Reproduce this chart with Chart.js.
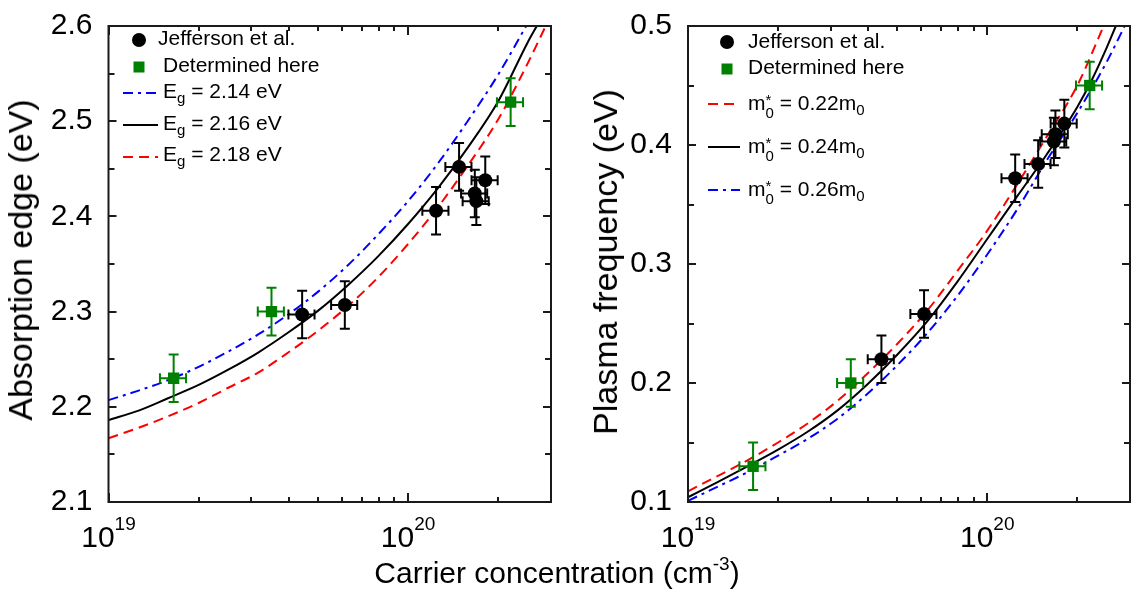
<!DOCTYPE html>
<html><head><meta charset="utf-8">
<script src="https://cdn.jsdelivr.net/npm/chart.js@4.4.1/dist/chart.umd.min.js"></script>
<style>
html,body{margin:0;padding:0;background:#fff;width:1144px;height:599px;overflow:hidden;}
.cv{position:absolute;top:0;}
.t{position:absolute;white-space:nowrap;color:#000;font-family:"Liberation Sans",Arial,Helvetica,sans-serif;}
.leg{font-size:21px;line-height:24px;}
.leg sub{font-size:15px;vertical-align:-5px;line-height:0;}
.ss{display:inline-block;vertical-align:-8px;line-height:13px;font-size:15px;text-align:left;}
.ss span{display:block;}
.ytitle{font-size:34px;line-height:34px;transform:translate(-50%,-50%) rotate(-90deg);}
.xtitle{font-size:30px;line-height:34px;transform:translateX(-50%);}
.xtitle sup{font-size:19px;vertical-align:13px;line-height:0;}
</style></head>
<body>
<canvas id="c1" class="cv" width="572" height="599" style="left:0px"></canvas>
<canvas id="c2" class="cv" width="572" height="599" style="left:572px"></canvas>

<div class="t ytitle" style="left:20px;top:260px;">Absorption edge (eV)</div>
<div class="t ytitle" style="left:605px;top:262px;">Plasma frequency (eV)</div>
<div class="t xtitle" style="left:557px;top:556px;">Carrier concentration (cm<sup>-3</sup>)</div>

<div class="t leg" style="left:158px;top:26px;">Jefferson et al.</div>
<div class="t leg" style="left:163px;top:53px;">Determined here</div>
<div class="t leg" style="left:163px;top:79px;">E<sub>g</sub> = 2.14 eV</div>
<div class="t leg" style="left:163px;top:111px;">E<sub>g</sub> = 2.16 eV</div>
<div class="t leg" style="left:163px;top:142px;">E<sub>g</sub> = 2.18 eV</div>

<div class="t leg" style="left:748px;top:29px;">Jefferson et al.</div>
<div class="t leg" style="left:748px;top:55px;">Determined here</div>
<div class="t leg" style="left:748px;top:91px;">m<span class="ss"><span>*</span><span>0</span></span> = 0.22m<sub>0</sub></div>
<div class="t leg" style="left:748px;top:134px;">m<span class="ss"><span>*</span><span>0</span></span> = 0.24m<sub>0</sub></div>
<div class="t leg" style="left:748px;top:177px;">m<span class="ss"><span>*</span><span>0</span></span> = 0.26m<sub>0</sub></div>

<script>
// ---------------- data ----------------
const xMin = 1e19, xMax = 3e20;
const xMajorTicks = [1e19, 1e20];
const xMinorTicks = [2e19,3e19,4e19,5e19,6e19,7e19,8e19,9e19,2e20,3e20];

const edgeTicks = [2.1,2.2,2.3,2.4,2.5,2.6];
const edgeMinorTicks = [2.15,2.25,2.35,2.45,2.55];
const plasmaTicks = [0.1,0.2,0.3,0.4,0.5];
const plasmaMinorTicks = [0.15,0.25,0.35,0.45];

// Jefferson et al.
const nJefferson      = [4.43e19, 6.15e19, 1.24e20, 1.48e20, 1.67e20, 1.69e20, 1.81e20];
const edgeJefferson   = [2.297, 2.307, 2.406, 2.452, 2.424, 2.416, 2.438];
const plasmaJefferson = [0.220, 0.258, 0.372, 0.384, 0.403, 0.409, 0.418];
// Determined here
const nHere      = [1.65e19, 3.5e19, 2.2e20];
const edgeHere   = [2.230, 2.300, 2.520];
const plasmaHere = [0.130, 0.200, 0.450];
// error bars
const nErrFraction = 0.10;
const edgeErr = 0.025;
const plasmaErr = 0.020;

// carrier concentrations at which the model curves were read
const nCurve = [1e19,1.26e19,1.58e19,2e19,2.51e19,3.16e19,3.98e19,5.01e19,6.31e19,7.94e19,1e20,1.26e20,1.58e20,2e20];

// model curves, absorption edge
const nEg214 = nCurve.concat([2.51e20]);
const eEg214 = [2.207,2.217,2.228,2.242,2.258,2.276,2.297,2.321,2.349,2.381,2.416,2.456,2.500,2.549,2.603];
const nEg216 = nCurve.concat([2.51e20, 2.69e20]);
const eEg216 = [2.186,2.196,2.209,2.223,2.239,2.257,2.278,2.301,2.328,2.358,2.392,2.430,2.472,2.521,2.583,2.600];
const nEg218 = nCurve.concat([2.51e20, 2.88e20]);
const eEg218 = [2.167,2.178,2.190,2.204,2.220,2.236,2.257,2.280,2.306,2.336,2.371,2.410,2.453,2.502,2.561,2.600];

// model curves, plasma frequency
const nM22 = nCurve.concat([2.45e20]);
const wM22 = [0.109,0.122,0.135,0.150,0.166,0.185,0.208,0.233,0.261,0.294,0.328,0.367,0.407,0.450,0.500];
const nM24 = nCurve.concat([2.24e20, 2.51e20, 2.69e20]);
const wM24 = [0.104,0.117,0.130,0.144,0.159,0.177,0.199,0.224,0.252,0.285,0.321,0.357,0.392,0.432,0.455,0.482,0.500];
const nM26 = nCurve.concat([2.51e20, 2.88e20]);
const wM26 = [0.101,0.113,0.125,0.139,0.153,0.170,0.191,0.215,0.242,0.273,0.308,0.346,0.387,0.427,0.470,0.500];

// ---------------- helpers ----------------
const FONT = '"Liberation Sans", Arial, Helvetica, sans-serif';
const pts = (xs, ys) => xs.map((x, i) => ({x: x, y: ys[i]}));
const BLUE = '#0000ff', RED = '#ff0000', GREEN = '#008000', BLACK = '#000000';

function scatterSet(label, xs, ys, color, style, radius, yErr) {
  return {type: 'scatter', label, data: pts(xs, ys), backgroundColor: color, borderColor: color,
    pointStyle: style, pointRadius: radius, pointBorderWidth: 0, showLine: false,
    errXFrac: nErrFraction, errY: yErr};
}
function curveSet(label, xs, ys, color, dash) {
  return {type: 'line', label, data: pts(xs, ys), borderColor: color, borderWidth: 2,
    borderDash: dash, pointRadius: 0, fill: false, cubicInterpolationMode: 'monotone'};
}

const errorBarPlugin = {
  id: 'errbars',
  beforeDatasetDraw(chart, args) {
    const ds = chart.data.datasets[args.index];
    if (ds.errY === undefined) return;
    const xs = chart.scales.x, ys = chart.scales.y, ctx = chart.ctx;
    const c = 5;
    ctx.save();
    ctx.strokeStyle = ds.borderColor; ctx.lineWidth = 2;
    ds.data.forEach(p => {
      const px = xs.getPixelForValue(p.x), py = ys.getPixelForValue(p.y);
      const x1 = xs.getPixelForValue(p.x * (1 - ds.errXFrac)), x2 = xs.getPixelForValue(p.x * (1 + ds.errXFrac));
      const y1 = ys.getPixelForValue(p.y - ds.errY), y2 = ys.getPixelForValue(p.y + ds.errY);
      ctx.beginPath();
      ctx.moveTo(px, y1); ctx.lineTo(px, y2);
      ctx.moveTo(px - c, y1); ctx.lineTo(px + c, y1);
      ctx.moveTo(px - c, y2); ctx.lineTo(px + c, y2);
      ctx.moveTo(x1, py); ctx.lineTo(x2, py);
      ctx.moveTo(x1, py - c); ctx.lineTo(x1, py + c);
      ctx.moveTo(x2, py - c); ctx.lineTo(x2, py + c);
      ctx.stroke();
    });
    ctx.restore();
  }
};

const framePlugin = {
  id: 'frame',
  afterDraw(chart, args, opts) {
    const ctx = chart.ctx, a = chart.chartArea, xs = chart.scales.x, ys = chart.scales.y;
    ctx.save();
    ctx.strokeStyle = '#1a1a1a'; ctx.lineWidth = 2;
    ctx.beginPath();
    const xt = (v, len) => { const p = Math.round(xs.getPixelForValue(v));
      ctx.moveTo(p, a.bottom); ctx.lineTo(p, a.bottom - len);
      ctx.moveTo(p, a.top); ctx.lineTo(p, a.top + len); };
    xMajorTicks.forEach(v => xt(v, 9));
    xMinorTicks.forEach(v => xt(v, 5));
    const yt = (v, len) => { const p = Math.round(ys.getPixelForValue(v));
      ctx.moveTo(a.left, p); ctx.lineTo(a.left + len, p);
      ctx.moveTo(a.right, p); ctx.lineTo(a.right - len, p); };
    opts.yMajor.forEach(v => yt(v, 8));
    opts.yMinor.forEach(v => yt(v, 6));
    ctx.stroke();
    ctx.strokeRect(a.left, a.top, a.right - a.left, a.bottom - a.top);
    // x tick labels 10^n
    ctx.fillStyle = '#000'; ctx.textBaseline = 'alphabetic';
    xMajorTicks.forEach(v => {
      const p = xs.getPixelForValue(v);
      const e = String(Math.round(Math.log10(v)));
      ctx.font = '30px ' + FONT; const w1 = ctx.measureText('10').width;
      ctx.font = '19px ' + FONT; const w2 = ctx.measureText(e).width;
      const x0 = p - (w1 + w2) / 2;
      ctx.font = '30px ' + FONT; ctx.textAlign = 'left';
      ctx.fillText('10', x0, 547);
      ctx.font = '19px ' + FONT;
      ctx.fillText(e, x0 + w1, 530);
    });
    // legend symbols
    const L = opts.legend;
    ctx.fillStyle = BLACK;
    ctx.beginPath(); ctx.arc(L.mx, L.circleY, 7, 0, Math.PI * 2); ctx.fill();
    ctx.fillStyle = GREEN; ctx.fillRect(L.mx - 5.5, L.squareY - 5.5, 11, 11);
    L.lines.forEach(l => {
      ctx.strokeStyle = l.color; ctx.lineWidth = 2; ctx.setLineDash(l.dash);
      ctx.beginPath(); ctx.moveTo(L.x1, l.y); ctx.lineTo(L.x2, l.y); ctx.stroke();
    });
    ctx.setLineDash([]);
    ctx.restore();
  }
};

function makeChart(id, datasets, yMin, yMax, yTicks, yMinor, yAxisWidth, rightPad, legend) {
  return new Chart(document.getElementById(id), {
    data: {datasets},
    plugins: [errorBarPlugin, framePlugin],
    options: {
      responsive: false, animation: false, devicePixelRatio: 1,
      layout: {padding: {top: 17, right: rightPad, left: 0, bottom: 0}},
      plugins: {legend: {display: false}, tooltip: {enabled: false},
        frame: {yMajor: yTicks, yMinor: yMinor, legend: legend}},
      scales: {
        x: {type: 'logarithmic', min: xMin, max: xMax,
            grid: {display: false}, border: {display: false},
            ticks: {display: false},
            afterFit: s => { s.height = 97; }},
        y: {type: 'linear', min: yMin, max: yMax,
            grid: {display: false}, border: {display: false},
            afterBuildTicks: s => { s.ticks = yTicks.map(v => ({value: v})); },
            ticks: {color: '#000', padding: 8, font: {family: FONT, size: 30},
                    callback: v => Number(v).toFixed(1)},
            afterFit: s => { s.width = yAxisWidth; }}
      }
    }
  });
}

makeChart('c1', [
  scatterSet('Jefferson et al.', nJefferson, edgeJefferson, BLACK, 'circle', 7, edgeErr),
  scatterSet('Determined here', nHere, edgeHere, GREEN, 'rect', 8, edgeErr),
  curveSet('Eg = 2.14 eV', nEg214, eEg214, BLUE, [10, 5, 3, 5]),
  curveSet('Eg = 2.16 eV', nEg216, eEg216, BLACK, []),
  curveSet('Eg = 2.18 eV', nEg218, eEg218, RED, [10, 6])
], 2.1, 2.6, edgeTicks, edgeMinorTicks, 108.5, 21,
  {mx: 139, circleY: 40, squareY: 67, x1: 123, x2: 158,
   lines: [{y: 93, color: BLUE, dash: [10,5,3,5]}, {y: 125, color: BLACK, dash: []}, {y: 157, color: RED, dash: [10,6]}]});

makeChart('c2', [
  scatterSet('Jefferson et al.', nJefferson, plasmaJefferson, BLACK, 'circle', 7, plasmaErr),
  scatterSet('Determined here', nHere, plasmaHere, GREEN, 'rect', 8, plasmaErr),
  curveSet('m0* = 0.22m0', nM22, wM22, RED, [10, 6]),
  curveSet('m0* = 0.24m0', nM24, wM24, BLACK, []),
  curveSet('m0* = 0.26m0', nM26, wM26, BLUE, [10, 5, 3, 5])
], 0.1, 0.5, plasmaTicks, plasmaMinorTicks, 116, 14,
  {mx: 155, circleY: 42, squareY: 69, x1: 136, x2: 168,
   lines: [{y: 104, color: RED, dash: [10,6]}, {y: 147, color: BLACK, dash: []}, {y: 190, color: BLUE, dash: [10,5,3,5]}]});
</script>
</body></html>
